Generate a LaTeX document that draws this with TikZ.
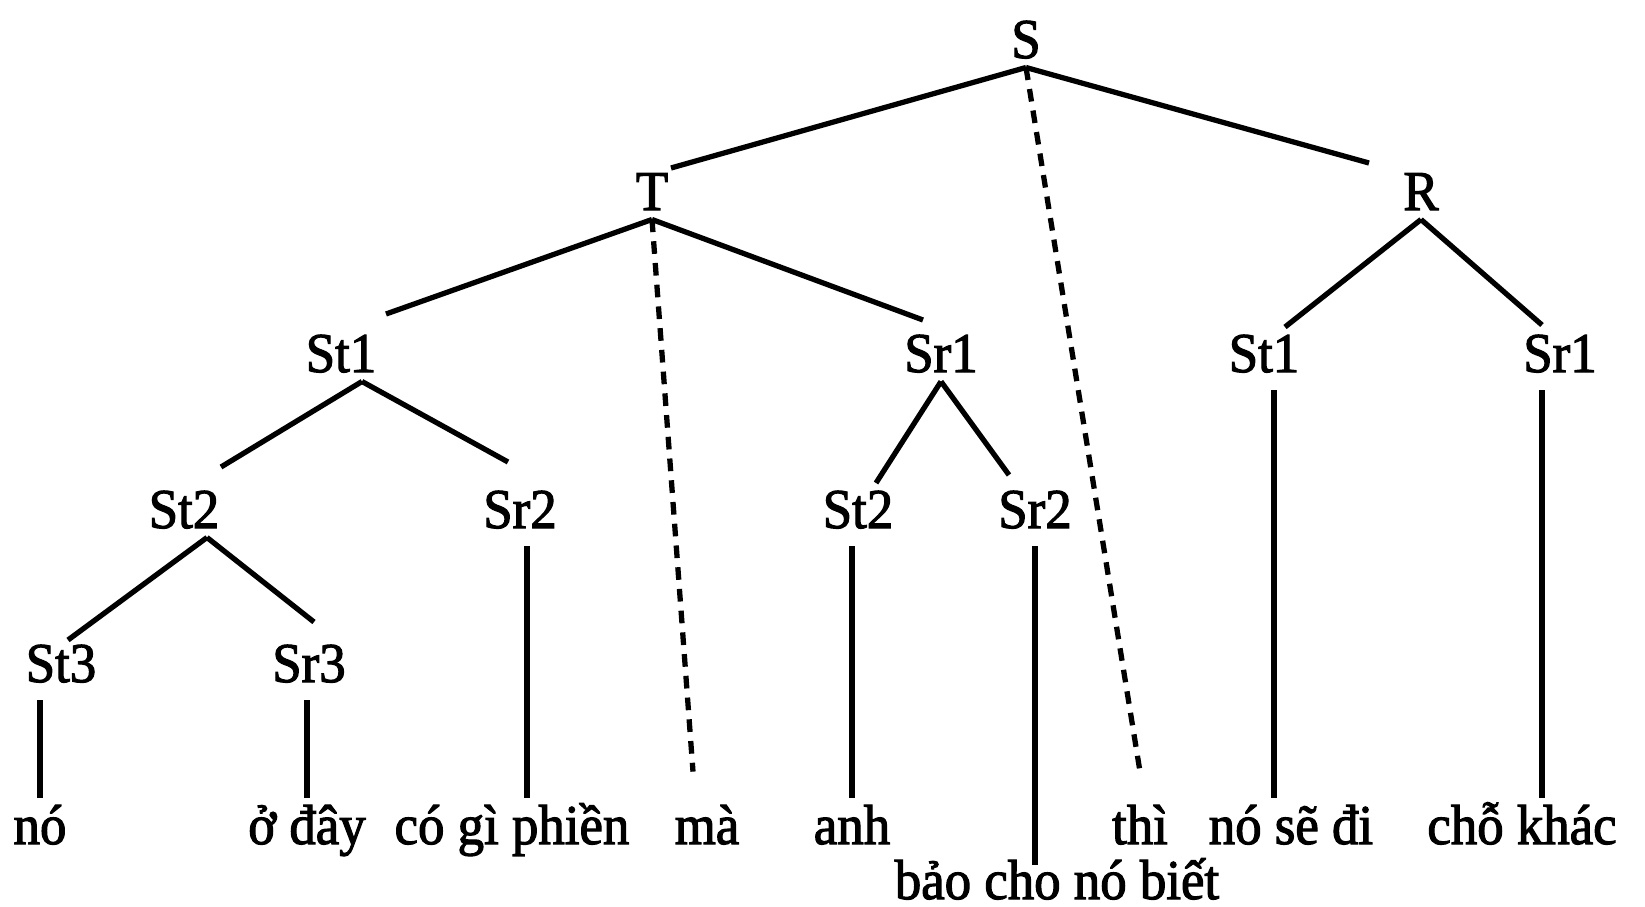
\documentclass[tikz,border=0pt]{standalone}
\usepackage{fontspec}
\setmainfont{Liberation Serif}[FakeStretch=0.94,FakeBold=2]
\begin{document}
\begin{tikzpicture}[
  lbl/.style={inner xsep=2pt, inner ysep=2.5pt, anchor=base, text height=14pt, text depth=0pt, font=\fontsize{16}{18}\selectfont},
  leaf/.style={inner sep=2.5pt, anchor=base, text height=10.5pt, font=\fontsize{16}{18}\selectfont},
  edge/.style={line width=1.5pt},
  link/.style={line width=1.5pt, dash pattern=on 3.6pt off 2.6pt}
]
\useasboundingbox (0,0) rectangle (16.45,-9.06);

% labels
\node[lbl] (S) at (10.26,-0.58) {S};
\node[lbl] (T) at (6.52,-2.10) {T};
\node[lbl] (R) at (14.21,-2.10) {R};
\node[lbl] (St1L) at (3.41,-3.72) {St1};
\node[lbl] (Sr1M) at (9.41,-3.72) {Sr1};
\node[lbl] (St1R) at (12.64,-3.72) {St1};
\node[lbl] (Sr1R) at (15.60,-3.72) {Sr1};
\node[lbl] (St2L) at (1.84,-5.28) {St2};
\node[lbl] (Sr2L) at (5.20,-5.28) {Sr2};
\node[lbl] (St2M) at (8.58,-5.28) {St2};
\node[lbl] (Sr2M) at (10.35,-5.28) {Sr2};
\node[lbl] (St3) at (0.61,-6.82) {St3};
\node[lbl] (Sr3) at (3.09,-6.82) {Sr3};

% words
\node[leaf] (no) at (0.40,-8.44) {nó};
\node[leaf] (odday) at (3.07,-8.44) {ở đây};
\node[leaf] (cogi) at (5.12,-8.44) {có gì phiền};
\node[leaf] (ma) at (7.07,-8.44) {mà};
\node[leaf] (anh) at (8.52,-8.44) {anh};
\node[leaf] (thi) at (11.40,-8.44) {thì};
\node[leaf] (nosedi) at (12.91,-8.44) {nó sẽ đi};
\node[leaf] (chokhac) at (15.22,-8.44) {chỗ khác};
\node[leaf, text height=7pt] (bao) at (10.57,-8.99) {bảo cho nó biết};

% branches
\draw[edge] (S.south) -- ([shift={(0.19,0.42)}]T.base);
\draw[edge] (S.south) -- ([shift={(-0.52,0.47)}]R.base);
\draw[link] (S.south) -- ([yshift=0.26cm]thi.north);
\draw[edge] (T.south) -- ([shift={(0.45,0.58)}]St1L.base);
\draw[edge] (T.south) -- ([shift={(-0.18,0.52)}]Sr1M.base);
\draw[link] (T.south) -- ([shift={(-0.14,0.26)}]ma.north);
\draw[edge] (R.south) -- ([shift={(0.21,0.45)}]St1R.base);
\draw[edge] (R.south) -- ([shift={(-0.18,0.47)}]Sr1R.base);
\draw[edge] ([xshift=0.21cm]St1L.south) -- ([shift={(0.37,0.61)}]St2L.base);
\draw[edge] ([xshift=0.21cm]St1L.south) -- ([shift={(-0.12,0.66)}]Sr2L.base);
\draw[edge] (Sr1M.south) -- ([shift={(0.18,0.45)}]St2M.base);
\draw[edge] (Sr1M.south) -- ([shift={(-0.26,0.53)}]Sr2M.base);
\draw[edge] ([xshift=0.23cm]St2L.south) -- ([shift={(0.07,0.42)}]St3.base);
\draw[edge] ([xshift=0.23cm]St2L.south) -- ([shift={(0.05,0.60)}]Sr3.base);

% down to the words
\draw[edge] ([yshift=-2.5pt]no |- St3.south) -- (no.north);
\draw[edge] ([yshift=-2.5pt]odday |- Sr3.south) -- (odday.north);
\draw[edge] ([shift={(0.07,-0.09)}]Sr2L.south) -- ([xshift=0.07cm]Sr2L.south |- cogi.north);
\draw[edge] ([yshift=-2.5pt]anh |- St2M.south) -- (anh.north);
\draw[edge] ([yshift=-2.5pt]Sr2M.south) -- (Sr2M.south |- bao.north);
\draw[edge] ([shift={(0.1,-0.09)}]St1R.south) -- ([xshift=0.1cm]St1R.south |- nosedi.north);
\draw[edge] ([shift={(-0.18,-0.09)}]Sr1R.south) -- ([xshift=-0.18cm]Sr1R.south |- chokhac.north);
\end{tikzpicture}
\end{document}
